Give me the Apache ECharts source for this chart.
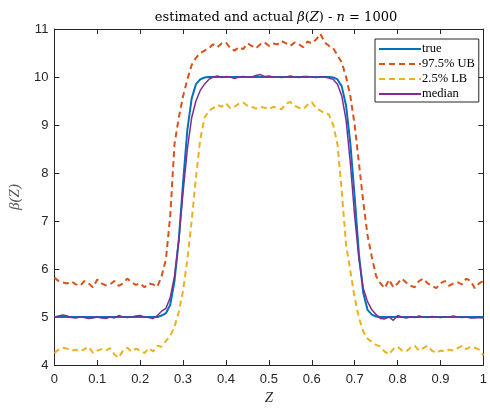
<!DOCTYPE html>
<html>
<head>
<meta charset="utf-8">
<script src="https://cdn.jsdelivr.net/npm/echarts@6/dist/echarts.min.js"></script>
<style>
html,body{margin:0;padding:0;background:#fff;}
#chart{width:490px;height:411px;}
</style>
</head>
<body>
<div id="chart"></div>
<script>
// Z grid
var zValues = [0,0.01,0.02,0.03,0.04,0.05,0.06,0.07,0.08,0.09,
0.1,0.11,0.12,0.13,0.14,0.15,0.16,0.17,0.18,0.19,
0.2,0.21,0.22,0.23,0.24,0.25,0.26,0.27,0.28,0.29,
0.3,0.31,0.32,0.33,0.34,0.35,0.36,0.37,0.38,0.39,
0.4,0.41,0.42,0.43,0.44,0.45,0.46,0.47,0.48,0.49,
0.5,0.51,0.52,0.53,0.54,0.55,0.56,0.57,0.58,0.59,
0.6,0.61,0.62,0.63,0.64,0.65,0.66,0.67,0.68,0.69,
0.7,0.71,0.72,0.73,0.74,0.75,0.76,0.77,0.78,0.79,
0.8,0.81,0.82,0.83,0.84,0.85,0.86,0.87,0.88,0.89,
0.9,0.91,0.92,0.93,0.94,0.95,0.96,0.97,0.98,0.99,1];

var trueBeta = [5,5,5,5,5,5,5,5,5,5,
5,5,5,5,5,5,5,5,5,5,
5,5,5,5,5,5.03,5.08,5.25,5.75,6.6,
7.8,8.9,9.55,9.85,9.95,9.99,10,10,10,10,
10,10,10,10,10,10,10,10,10,10,
10,10,10,10,10,10,10,10,10,10,
10,10,10,10,10,9.99,9.95,9.8,9.4,8.6,
7.5,6.3,5.5,5.15,5.05,5.01,5,5,5,5,
5,5,5,5,5,5,5,5,5,5,
5,5,5,5,5,5,5,5,5,5,5];

var ub975 = [5.82,5.75,5.72,5.7,5.74,5.68,5.65,5.75,5.7,5.62,
5.78,5.7,5.66,5.68,5.75,5.65,5.7,5.8,5.72,5.67,
5.7,5.62,5.7,5.68,5.63,5.85,6.2,7.1,8.6,9.15,
9.6,9.95,10.25,10.4,10.5,10.55,10.6,10.68,10.62,10.7,
10.72,10.6,10.55,10.62,10.58,10.7,10.65,10.6,10.68,10.72,
10.65,10.7,10.68,10.75,10.7,10.65,10.72,10.68,10.62,10.74,
10.7,10.78,10.9,10.72,10.65,10.6,10.45,10.3,10.0,9.6,
9.0,8.2,7.4,6.7,6.25,5.85,5.7,5.6,5.78,5.62,
5.7,5.8,5.72,5.65,5.62,5.75,5.8,5.7,5.65,5.6,
5.7,5.75,5.65,5.7,5.72,5.68,5.8,5.75,5.6,5.7,5.75];

var lb25 = [4.25,4.32,4.36,4.34,4.3,4.32,4.28,4.33,4.38,4.25,
4.3,4.33,4.3,4.35,4.22,4.15,4.3,4.36,4.28,4.34,
4.3,4.25,4.35,4.28,4.4,4.38,4.5,4.6,4.8,5.1,
5.55,6.2,7.0,7.9,8.7,9.15,9.3,9.35,9.42,9.38,
9.45,9.35,9.38,9.44,9.47,9.4,9.38,9.34,9.38,9.36,
9.33,9.38,9.35,9.33,9.45,9.48,9.4,9.36,9.33,9.42,
9.48,9.35,9.3,9.25,9.22,9.0,8.6,7.6,6.5,5.95,
5.4,4.98,4.7,4.55,4.48,4.42,4.38,4.28,4.22,4.33,
4.38,4.3,4.28,4.36,4.4,4.3,4.35,4.4,4.3,4.25,
4.3,4.28,4.32,4.3,4.35,4.4,4.33,4.38,4.36,4.32,4.2];

var medianBeta = [5,5.02,5.04,5.02,4.99,4.98,5,4.99,4.97,4.98,
5,4.98,4.97,5,4.98,5.03,5,4.99,5,5.02,
5.03,5,4.99,4.97,5.03,5.12,5.18,5.4,5.85,6.6,
7.6,8.5,9.15,9.5,9.72,9.85,9.95,10,10.02,9.99,
10.01,10,9.97,10,10.01,10,10,10.03,10.05,10.01,
10.02,10,10,9.99,10,10.02,10,9.99,10.01,10.01,
10,9.99,10,10,9.98,9.95,9.85,9.6,9.1,8.2,
7.1,6.2,5.6,5.32,5.15,5.05,4.97,4.96,5,4.93,
5.03,5,4.98,5,4.99,5.02,5,4.99,5.01,5,
4.99,5,5,5.02,5,4.99,5,4.98,4.98,4.99,4.98];

var seriesNames = ['true', '97.5% UB', '2.5% LB', 'median'];

function pairs(vals) {
  return zValues.map(function (z, i) { return [z, vals[i]]; });
}

var axisColor = '#262626';
var chart = echarts.init(document.getElementById('chart'), null, {renderer: 'canvas'});
var serif = 'Liberation Serif';
var titleSerif = 'DejaVu Serif';

var option = {
  animation: false,
  backgroundColor: '#ffffff',
  title: {
    text: '{r|estimated and actual }{i|β}{r|(}{i|Z}{r|) - }{i|n}{r| = 1000}',
    left: 271,
    textAlign: 'center',
    top: 6,
    textStyle: {
      fontWeight: 'normal',
      rich: {
        r: {fontFamily: titleSerif, fontSize: 13, fontWeight: 'normal', color: '#000'},
        i: {fontFamily: titleSerif, fontSize: 13, fontWeight: 'normal', fontStyle: 'italic', color: '#000'}
      }
    }
  },
  grid: {left: 54, right: 2, top: 29, bottom: 40, containLabel: false},
  legend: {
    orient: 'vertical',
    left: 375,
    top: 39,
    padding: [3, 4, 1, 3],
    itemGap: 1,
    itemWidth: 42,
    itemHeight: 12,
    backgroundColor: '#fff',
    borderColor: axisColor,
    borderWidth: 1,
    data: seriesNames,
    itemStyle: {opacity: 0},
    textStyle: {fontFamily: serif, fontSize: 12.5, lineHeight: 14, color: '#000', padding: [0,0,0,-4]}
  },
  xAxis: [{
    type: 'value', min: 0, max: 1, interval: 0.1, position: 'bottom',
    name: 'Z', nameLocation: 'middle', nameGap: 26,
    nameTextStyle: {fontFamily: serif, fontStyle: 'italic', fontSize: 15, color: '#333'},
    axisLine: {show: true, onZero: false, lineStyle: {color: axisColor, width: 1}},
    axisTick: {show: true, inside: true, length: 5, lineStyle: {color: axisColor}},
    axisLabel: {fontFamily: 'Liberation Sans', fontSize: 13, color: axisColor, margin: 8},
    splitLine: {show: false}
  }, {
    type: 'value', min: 0, max: 1, interval: 0.1, position: 'top',
    axisLine: {show: true, onZero: false, lineStyle: {color: axisColor, width: 1}},
    axisTick: {show: true, inside: true, length: 5, lineStyle: {color: axisColor}},
    axisLabel: {show: false},
    splitLine: {show: false}
  }],
  yAxis: [{
    type: 'value', min: 4, max: 11, interval: 1, position: 'left',
    name: 'β(Z)', nameLocation: 'middle', nameGap: 24, nameRotate: 90,
    nameTextStyle: {fontFamily: serif, fontStyle: 'italic', fontSize: 15, color: '#555'},
    axisLine: {show: true, onZero: false, lineStyle: {color: axisColor, width: 1}},
    axisTick: {show: true, inside: true, length: 5, lineStyle: {color: axisColor}},
    axisLabel: {fontFamily: 'Liberation Sans', fontSize: 13, color: axisColor, margin: 6},
    splitLine: {show: false}
  }, {
    type: 'value', min: 4, max: 11, interval: 1, position: 'right',
    axisLine: {show: true, onZero: false, lineStyle: {color: axisColor, width: 1}},
    axisTick: {show: true, inside: true, length: 5, lineStyle: {color: axisColor}},
    axisLabel: {show: false},
    splitLine: {show: false}
  }],
  series: [{
    name: seriesNames[0], type: 'line', data: pairs(trueBeta),
    symbol: 'none', lineStyle: {color: '#0072BD', width: 2}, itemStyle: {color: '#0072BD'}
  }, {
    name: seriesNames[1], type: 'line', data: pairs(ub975),
    symbol: 'none', lineStyle: {color: '#D95319', width: 2, type: [6, 4]}, itemStyle: {color: '#D95319'}
  }, {
    name: seriesNames[2], type: 'line', data: pairs(lb25),
    symbol: 'none', lineStyle: {color: '#EDB120', width: 2, type: [6, 4]}, itemStyle: {color: '#EDB120'}
  }, {
    name: seriesNames[3], type: 'line', data: pairs(medianBeta),
    symbol: 'none', lineStyle: {color: '#7E2F8E', width: 1.5}, itemStyle: {color: '#7E2F8E'}
  }]
};
chart.setOption(option);
</script>
</body>
</html>
